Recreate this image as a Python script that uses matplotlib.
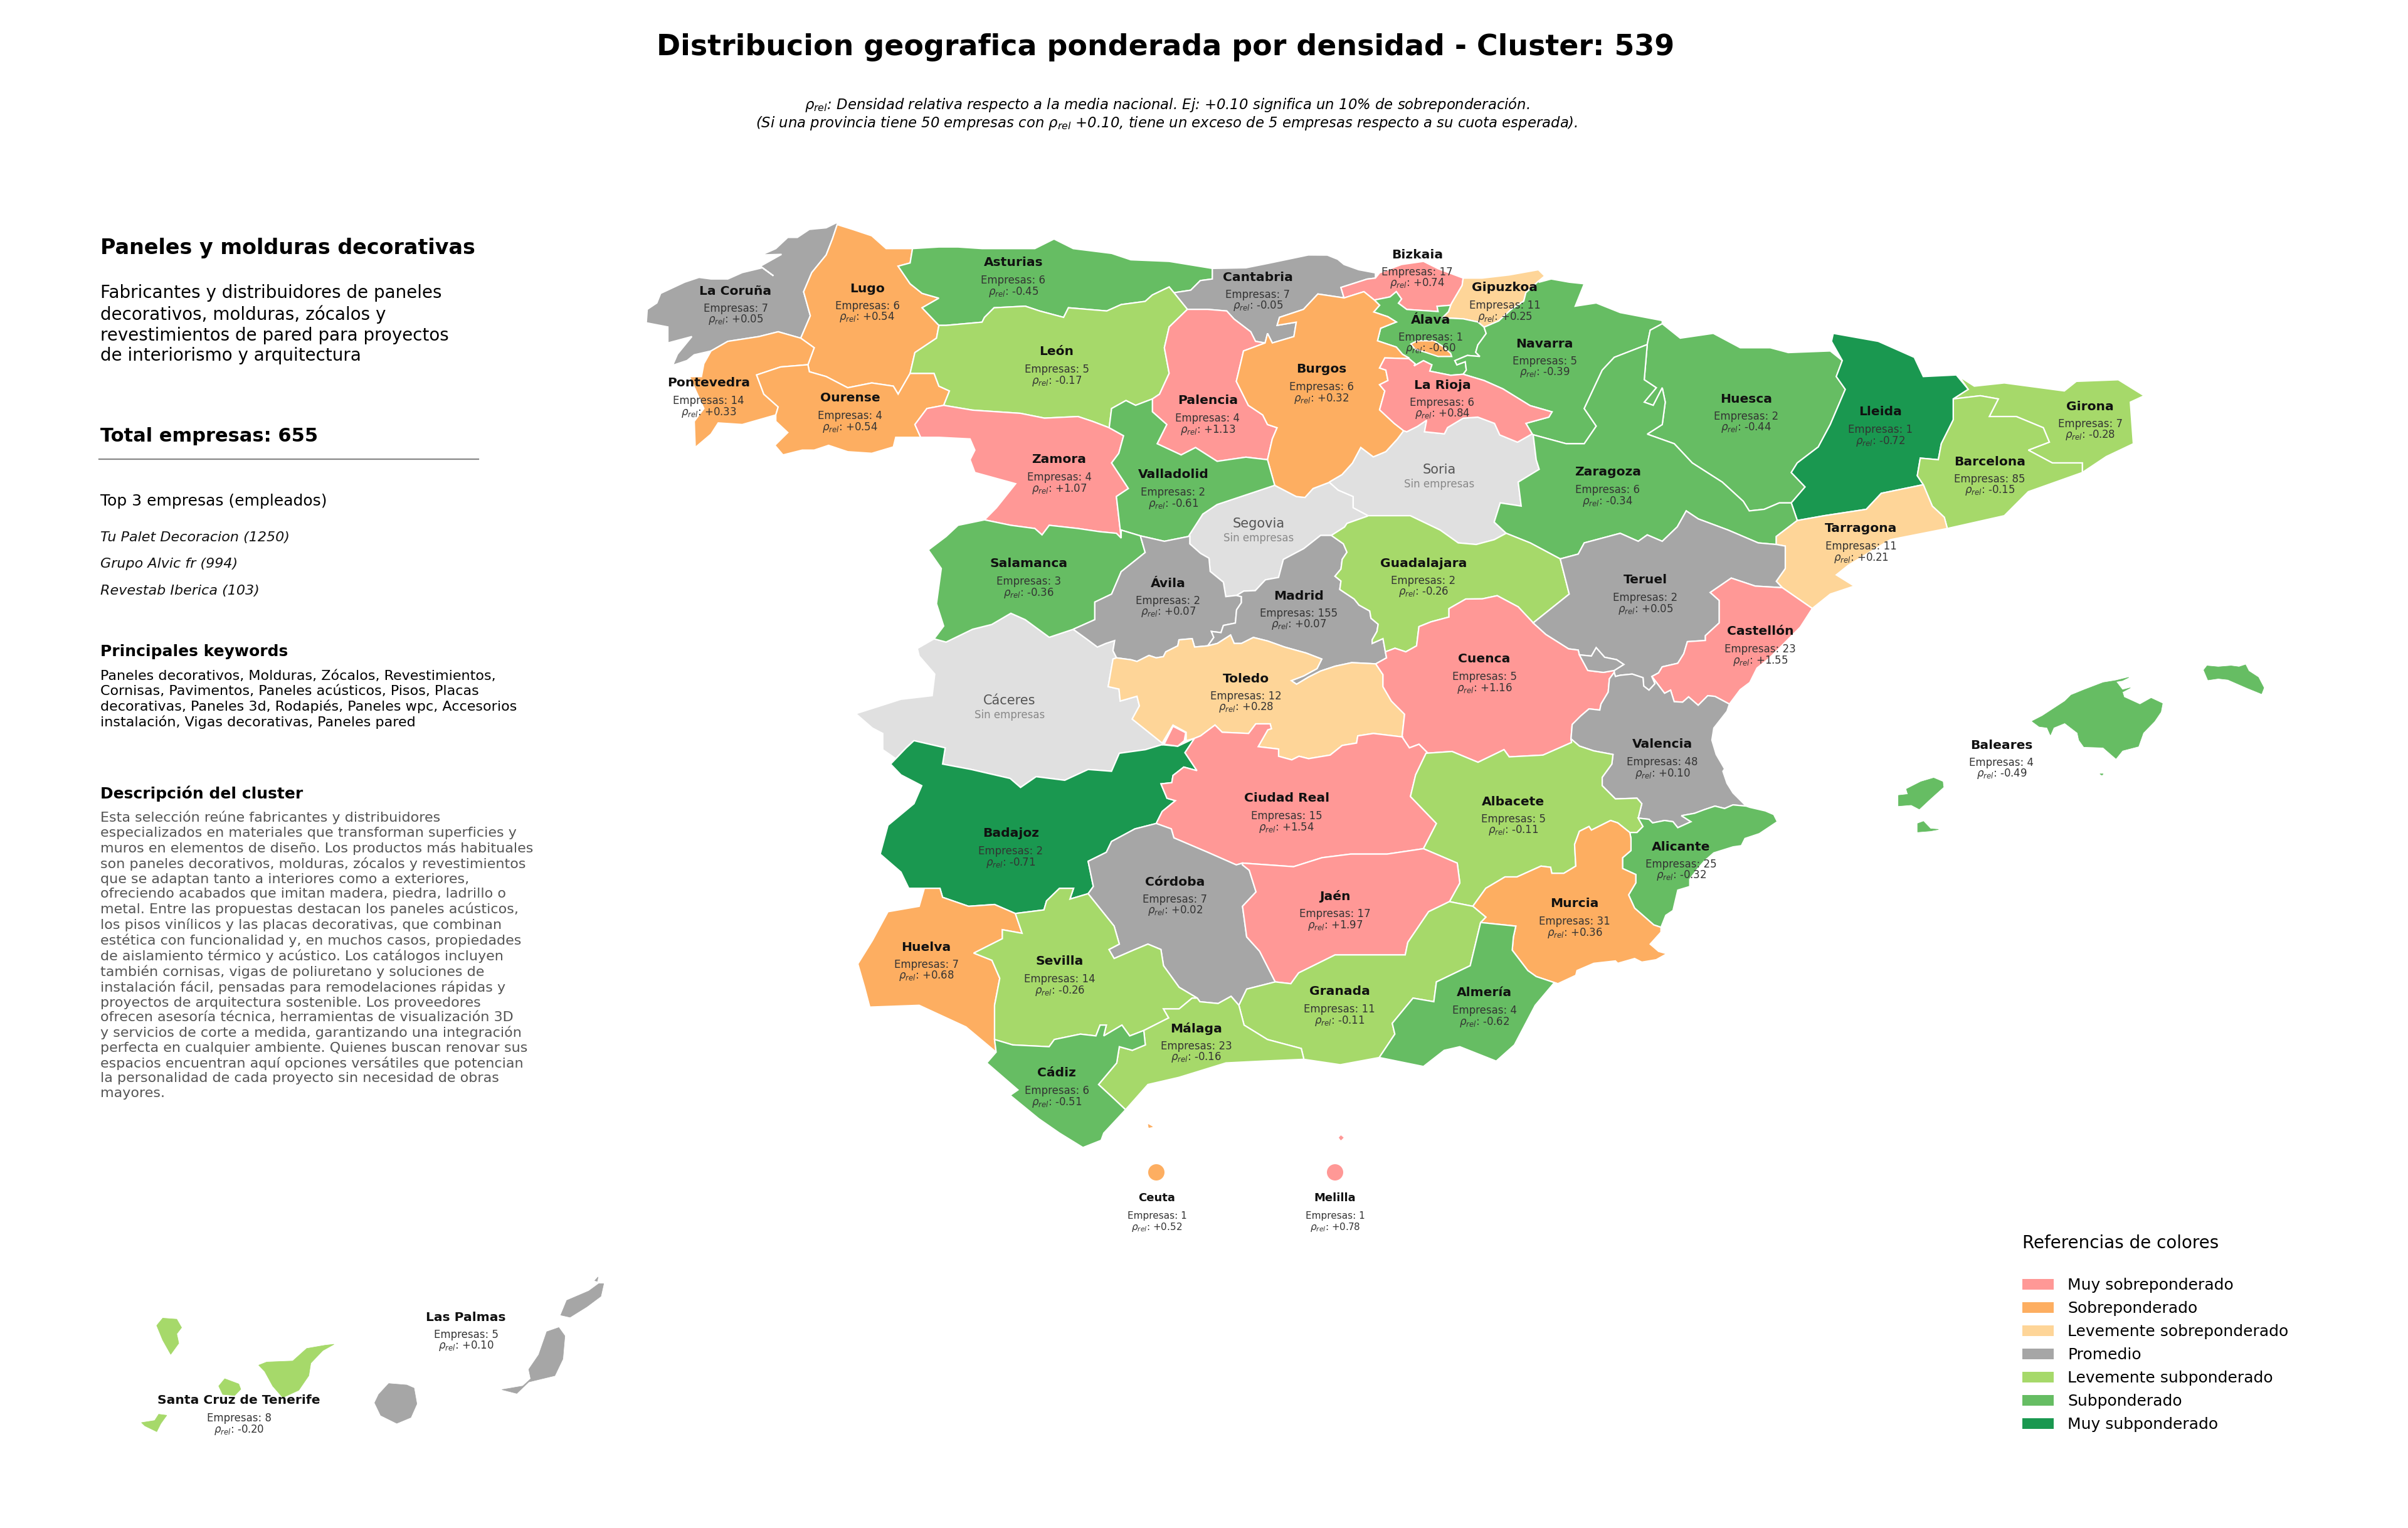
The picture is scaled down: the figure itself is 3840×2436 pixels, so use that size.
import numpy as np
import matplotlib
matplotlib.use("Agg")
import matplotlib.pyplot as plt
from matplotlib.patches import Polygon, Patch, Circle


def scaler(x0, y0, sx, sy):
    """Outlines were traced on crops of the source, this maps a crop back to canvas pixels"""
    def conv(pts):
        a = np.array(pts, dtype=float)
        return np.column_stack([x0 + a[:, 0] * sx, y0 + a[:, 1] * sy])
    return conv


z1 = scaler(1000, 330, 0.765, 0.51)
z2 = scaler(2000, 330, 0.957, 0.51)
z3 = scaler(1300, 1000, 0.829, 0.574)
z4 = scaler(1300, 1400, 0.957, 0.383)
z5 = scaler(100, 1950, 0.638, 0.333)
z6 = scaler(2900, 1000, 0.51, 0.333)
z9 = scaler(2400, 1000, 0.3827, 0.3827)
z10 = scaler(2100, 380, 0.3333, 0.3333)
z11 = scaler(1750, 800, 0.3827, 0.3827)

# province table
NAMES = ['La Coruña', 'Lugo', 'Asturias', 'Cantabria', 'Bizkaia', 'Gipuzkoa', 'Álava', 'Navarra',
         'Pontevedra', 'Ourense', 'León', 'Palencia', 'Burgos', 'La Rioja', 'Huesca', 'Lleida',
         'Girona', 'Barcelona', 'Zaragoza', 'Tarragona', 'Zamora', 'Valladolid', 'Salamanca',
         'Ávila', 'Madrid', 'Guadalajara', 'Teruel', 'Castellón', 'Toledo', 'Cuenca', 'Valencia',
         'Badajoz', 'Ciudad Real', 'Albacete', 'Alicante', 'Córdoba', 'Jaén', 'Murcia', 'Huelva',
         'Sevilla', 'Granada', 'Almería', 'Málaga', 'Cádiz', 'Baleares', 'Las Palmas',
         'Santa Cruz de Tenerife', 'Ceuta', 'Melilla']
COUNTS = [7, 6, 6, 7, 17, 11, 1, 5, 14, 4, 5, 4, 6, 6, 2, 1, 7, 85, 6, 11, 4, 2, 3, 2, 155, 2, 2,
          23, 12, 5, 48, 2, 15, 5, 25, 7, 17, 31, 7, 14, 11, 4, 23, 6, 4, 5, 8, 1, 1]
RHO = [0.05, 0.54, -0.45, -0.05, 0.74, 0.25, -0.60, -0.39, 0.33, 0.54, -0.17, 1.13, 0.32, 0.84,
       -0.44, -0.72, -0.28, -0.15, -0.34, 0.21, 1.07, -0.61, -0.36, 0.07, 0.07, -0.26, 0.05, 1.55,
       0.28, 1.16, 0.10, -0.71, 1.54, -0.11, -0.32, 0.02, 1.97, 0.36, 0.68, -0.26, -0.11, -0.62,
       -0.16, -0.51, -0.49, 0.10, -0.20, 0.52, 0.78]
EMPTY_NAMES = ['Segovia', 'Soria', 'Cáceres']
ISLANDS = ['Baleares', 'Las Palmas', 'Santa Cruz de Tenerife', 'Ceuta', 'Melilla']

LEGEND_LABELS = ['Muy sobreponderado', 'Sobreponderado', 'Levemente sobreponderado', 'Promedio',
                 'Levemente subponderado', 'Subponderado', 'Muy subponderado']
LEGEND_COLORS = ['#FF9896', '#FDAE61', '#FED598', '#A6A6A6', '#A6D96A', '#66BD63', '#1A9850']
EMPTY_COLOR = '#E0E0E0'

TOP_COMPANIES = ['Tu Palet Decoracion (1250)', 'Grupo Alvic fr (994)', 'Revestab Iberica (103)']
KEYWORDS = ("Paneles decorativos, Molduras, Zócalos, Revestimientos,\n"
            "Cornisas, Pavimentos, Paneles acústicos, Pisos, Placas\n"
            "decorativas, Paneles 3d, Rodapiés, Paneles wpc, Accesorios\n"
            "instalación, Vigas decorativas, Paneles pared")
SUMMARY = ("Fabricantes y distribuidores de paneles\n"
           "decorativos, molduras, zócalos y\n"
           "revestimientos de pared para proyectos\n"
           "de interiorismo y arquitectura")
DESCRIPTION = ("Esta selección reúne fabricantes y distribuidores\n"
               "especializados en materiales que transforman superficies y\n"
               "muros en elementos de diseño. Los productos más habituales\n"
               "son paneles decorativos, molduras, zócalos y revestimientos\n"
               "que se adaptan tanto a interiores como a exteriores,\n"
               "ofreciendo acabados que imitan madera, piedra, ladrillo o\n"
               "metal. Entre las propuestas destacan los paneles acústicos,\n"
               "los pisos vinílicos y las placas decorativas, que combinan\n"
               "estética con funcionalidad y, en muchos casos, propiedades\n"
               "de aislamiento térmico y acústico. Los catálogos incluyen\n"
               "también cornisas, vigas de poliuretano y soluciones de\n"
               "instalación fácil, pensadas para remodelaciones rápidas y\n"
               "proyectos de arquitectura sostenible. Los proveedores\n"
               "ofrecen asesoría técnica, herramientas de visualización 3D\n"
               "y servicios de corte a medida, garantizando una integración\n"
               "perfecta en cualquier ambiente. Quienes buscan renovar sus\n"
               "espacios encuentran aquí opciones versátiles que potencian\n"
               "la personalidad de cada proyecto sin necesidad de obras\n"
               "mayores.")

# shared borders, named after the two sides
CORUNA_COAST = z1([(438, 48), (415, 65), (380, 70), (355, 95), (335, 95), (310, 130), (280, 150), (322, 148),
                   (278, 185), (305, 215), (282, 190), (240, 205), (210, 225), (175, 225), (150, 220),
                   (120, 235), (70, 270), (62, 300), (42, 320), (40, 362), (85, 375), (85, 425), (135, 405),
                   (105, 460), (95, 495), (125, 480), (140, 462), (175, 450)])
CORUNA_PONTE = z1([(175, 450), (210, 420), (275, 405), (315, 390), (362, 410)])
CORUNA_LUGO = z1([(362, 410), (382, 340), (368, 265), (385, 205), (415, 150), (428, 100), (438, 55)])
LUGO_COAST = z1([(438, 55), (470, 70), (510, 90), (540, 130), (595, 130)])
LUGO_ASTUR = z1([(595, 130), (590, 175), (565, 185), (590, 240), (615, 270), (650, 285), (615, 315), (650, 370)])
LUGO_LEON = z1([(650, 370), (645, 410), (600, 455), (590, 520)])
LUGO_OURENSE = z1([(590, 520), (565, 585), (555, 560), (510, 550), (460, 565), (415, 530), (380, 515), (377, 493)])
LUGO_PONTE = z1([(377, 493), (390, 440), (362, 410)])
PONTE_OURENSE = z1([(377, 493), (320, 500), (270, 525), (285, 585), (315, 625), (310, 650)])
PONTE_COAST = z1([(310, 650), (240, 680), (190, 675), (175, 710), (142, 752), (140, 670), (160, 630), (130, 530),
                  (155, 530), (160, 490), (175, 450)])
OURENSE_LEON = z1([(590, 520), (640, 520), (650, 560), (672, 575), (660, 620)])
OURENSE_ZAMORA = z1([(660, 620), (625, 630), (600, 680), (612, 720)])
OURENSE_S = z1([(612, 720), (560, 720), (555, 750), (510, 770), (460, 765), (420, 745), (390, 760), (365, 760),
                (325, 775), (308, 745), (335, 705), (310, 670), (310, 650)])
ASTUR_COAST = z1([(595, 130), (650, 125), (690, 125), (740, 130), (800, 130), (850, 130), (890, 100), (930, 130),
                  (1010, 145), (1050, 165), (1130, 170), (1220, 192)])
ASTUR_CANT = z1([(1220, 192), (1220, 225), (1195, 230), (1175, 260), (1140, 268)])
ASTUR_LEON = z1([(1140, 268), (1130, 250), (1095, 275), (1080, 295), (1030, 305), (1000, 325), (920, 315), (910, 345),
                 (860, 325), (830, 310), (765, 315), (745, 345), (740, 360), (665, 370), (650, 370)])
LEON_CANT = z1([(1140, 268), (1168, 320)])
LEON_PAL = z1([(1168, 320), (1130, 375), (1120, 440), (1130, 520), (1110, 585), (1095, 600)])
LEON_VALL = z1([(1095, 600), (1060, 620), (1040, 605), (1010, 630), (1005, 690)])
LEON_ZAM = z1([(1005, 690), (970, 670), (940, 655), (870, 660), (820, 645), (720, 635), (660, 620)])
CANT_COAST = np.vstack([z1([(1220, 192), (1290, 190), (1340, 175), (1420, 150)]),
                        z10([(50, 80), (100, 100), (130, 125), (200, 150), (280, 165), (280, 190)])])
CANT_BIZK = z10([(280, 190), (240, 195), (115, 235), (130, 285)])
CANT_BURGOS = z1([(1494, 284), (1440, 272), (1410, 320), (1360, 345), (1355, 370), (1395, 360), (1390, 405),
                  (1345, 425), (1335, 395), (1330, 425)])
PAL_CANT = z1([(1168, 320), (1210, 320), (1250, 325), (1265, 350), (1300, 390), (1310, 420), (1330, 425)])
PAL_BURGOS = z1([(1330, 425), (1285, 450), (1270, 545), (1295, 620), (1325, 650), (1335, 680), (1355, 690),
                 (1345, 725), (1335, 790)])
PAL_VALL = z1([(1335, 790), (1290, 782), (1230, 795), (1185, 752), (1155, 775), (1105, 740), (1125, 680), (1095, 640),
               (1095, 600)])
VALL_ZAM = z1([(1005, 690), (1035, 715), (1025, 770), (1010, 800), (1045, 880), (1020, 905), (1030, 1035)])
VALL_SAL = z1([(1030, 1035), (1030, 1010), (1070, 1028)])
VALL_AV = z1([(1070, 1028), (1120, 1045), (1170, 1030)])
VALL_SEG = z1([(1170, 1030), (1200, 960), (1230, 930), (1350, 870)])
VALL_BURG = z1([(1350, 870), (1335, 790)])
ZAM_SAL = z1([(1030, 1035), (1020, 1020), (985, 1015), (940, 1005), (880, 995), (865, 1025), (850, 1005), (800, 995),
              (745, 978)])
ZAM_W = z1([(745, 978), (770, 940), (810, 865), (725, 830), (715, 790), (725, 760), (715, 725), (650, 720), (612, 720)])
SAL_AV = z1([(1070, 1028), (1080, 1080), (1030, 1140), (1010, 1210), (975, 1235), (975, 1290), (930, 1320)])
SAL_CAC = z1([(930, 1320), (880, 1345), (830, 1290), (800, 1270), (760, 1305), (720, 1320), (665, 1360), (640, 1350)])
SAL_W = z1([(640, 1350), (660, 1310), (645, 1240), (655, 1130), (628, 1072), (665, 1030), (690, 995), (745, 978)])
SEG_BURG = z1([(1350, 870), (1395, 905), (1413, 908), (1430, 880), (1465, 860)])
SEG_SORIA = z2([(125, 860), (140, 885), (165, 905), (165, 940), (190, 965)])
SEG_GUAD = z11([(1125, 60), (1040, 90), (1030, 105), (975, 140)])
AV_SEG = z11([(385, 140), (385, 175), (430, 215), (465, 235), (470, 290), (525, 335), (535, 395), (580, 390)])
AV_CAC = z11([(-102, 530), (-40, 575), (0, 605), (35, 590), (72, 578), (65, 620), (80, 650)])
AV_TOL = z11([(80, 650), (140, 658), (165, 665), (215, 640), (245, 650), (275, 645), (285, 625), (335, 600), (340, 575),
              (395, 570), (405, 605), (460, 600)])
AV_MAD = z11([(460, 600), (485, 565), (475, 540), (515, 545), (525, 515), (575, 505), (580, 450), (600, 420), (600, 395),
              (580, 390)])
MAD_SEG = z11([(580, 390), (610, 372), (658, 370), (700, 325), (755, 315), (775, 240), (860, 195), (930, 140), (975, 140)])
MAD_GUAD = z11([(975, 140), (1025, 175), (1040, 210), (1020, 240), (1015, 280), (990, 310), (1015, 330), (1010, 365),
                (1070, 405), (1090, 430), (1135, 455), (1140, 485), (1170, 510), (1165, 540), (1145, 575), (1145, 590),
                (1190, 570), (1200, 625)])
MAD_CUENCA = z11([(1200, 625), (1205, 650), (1160, 675)])
MAD_TOL = z11([(1160, 675), (1060, 670), (990, 685), (930, 705), (880, 730), (830, 760), (808, 745), (860, 725), (915, 695),
               (935, 655), (870, 630), (780, 605), (710, 580), (650, 565), (600, 590), (570, 590), (555, 555), (500, 590),
               (460, 600)])
GUAD_CUENCA = np.vstack([z11([(1200, 625), (1240, 610), (1285, 625), (1330, 600), (1340, 520), (1390, 500), (1465, 480),
                              (1465, 445), (1535, 405)]),
                         z2([(380, 1225), (405, 1215), (440, 1250), (465, 1300)])])
GUAD_TER = z2([(465, 1300), (525, 1210), (510, 1100)])
CUENCA_TOL = z11([(1270, 975), (1280, 885), (1225, 830), (1190, 770), (1190, 720), (1160, 675)])
CUENCA_CR = z11([(1270, 980), (1300, 1025), (1340, 1010), (1375, 1045)])
CUENCA_TER = z9([(117, -18), (170, 30), (265, 90), (305, 95), (310, 115)])
TER_ADEMUZ = z9([(455, 180), (495, 155), (465, 135), (415, 125), (380, 85), (360, 120), (310, 115)])
CUENCA_ADEMUZ = z9([(310, 115), (345, 180), (410, 188), (455, 180)])
CUENCA_VAL = z9([(455, 188), (435, 215), (430, 270), (400, 320), (395, 345), (350, 340), (315, 370), (280, 405), (275, 465)])
CUENCA_ALB = z3([(1455, 320), (1400, 355), (1335, 360), (1325, 340), (1275, 375), (1225, 345), (1175, 350)])

NAV_COAST = z2([(475, 235), (495, 225), (525, 235), (550, 240), (535, 310), (570, 300), (610, 330), (680, 355), (680, 365)])
NAV_HUESCA = z2([(680, 365), (660, 385), (655, 430)])
NAV_ZAR = z2([(655, 430), (600, 470), (580, 510), (550, 630), (570, 685), (550, 740), (520, 740), (465, 712)])
ZAR_HUESCA = z2([(655, 430), (650, 540), (670, 565), (650, 610), (665, 620), (680, 565), (685, 610), (680, 680), (655, 710),
                 (700, 740), (730, 800), (780, 860), (815, 920), (825, 950), (850, 945), (875, 925), (895, 925)])
HUESCA_N = z2([(680, 365), (710, 410), (765, 395), (810, 440), (860, 440), (890, 455), (960, 450), (980, 480)])
HUESCA_LLEIDA = z2([(980, 480), (970, 530), (985, 570), (960, 680), (940, 750), (905, 800), (895, 830), (918, 875), (895, 925)])
ZAR_SORIA = z2([(465, 712), (470, 790), (475, 820), (440, 860), (445, 935), (410, 925), (400, 985), (420, 1020)])
ZAR_GUAD = z2([(420, 1020), (460, 1050), (510, 1100)])
ZAR_TER = z2([(510, 1100), (540, 1085), (550, 1050), (610, 1020), (640, 1045), (655, 1025), (680, 1045), (705, 1000),
              (720, 950), (740, 975), (790, 1010), (840, 1050), (870, 1055)])
ZAR_TARR = z2([(870, 1055), (870, 1030), (905, 980)])
ZAR_LLEIDA = z2([(905, 980), (895, 925)])
LLEIDA_N = z2([(980, 480), (962, 420), (965, 395), (1040, 420), (1100, 470), (1115, 530), (1170, 525), (1190, 570)])
LLEIDA_GIR = z2([(1190, 570), (1165, 600)])
LLEIDA_BAR = z2([(1165, 600), (1165, 665), (1145, 740), (1140, 790), (1110, 785), (1105, 840), (1115, 868)])
LLEIDA_TARR = z2([(1115, 868), (1045, 895), (1020, 945), (950, 965), (905, 980)])
TARR_BAR = z2([(1115, 868), (1130, 935), (1150, 970), (1155, 1005)])
TARR_COAST = z2([(1155, 1005), (1060, 1040), (990, 1120), (970, 1150), (1000, 1185), (960, 1210), (930, 1255)])
TARR_CAST = z2([(930, 1255), (880, 1190)])
TARR_TER = z2([(880, 1190), (870, 1170), (885, 1130), (885, 1060), (870, 1055)])
BAR_GIR = z2([(1165, 600), (1210, 590), (1240, 600), (1225, 655), (1270, 655), (1315, 690), (1325, 735), (1290, 760),
              (1330, 800), (1380, 800)])
BAR_COAST = z2([(1380, 800), (1380, 830), (1290, 890), (1250, 965), (1155, 1005)])
GIR_COAST = z2([(1190, 570), (1175, 530), (1200, 560), (1250, 550), (1350, 575), (1370, 545), (1440, 540), (1483, 590),
                (1460, 610), (1465, 740), (1420, 780), (1380, 830), (1380, 800)])
SOR_GUAD = z2([(420, 1020), (400, 1040), (370, 1055), (340, 1050), (310, 1010), (260, 965), (190, 965)])

BUR_SORIA = z10([(60, 1165), (120, 1130), (170, 1075), (210, 1000), (270, 1045), (330, 1020), (385, 960), (415, 920)])
BUR_RIOJA = z10([(440, 575), (430, 575), (325, 572), (300, 620), (330, 630), (340, 680), (300, 700), (325, 730), (300, 820),
                 (370, 885), (415, 920)])
RIOJA_SORIA = z10([(415, 920), (430, 925), (480, 900), (525, 870), (515, 925), (610, 935), (625, 905), (700, 860), (770, 855),
                   (850, 885), (875, 940), (960, 975), (1030, 935)])
RIOJA_NAV = z10([(700, 650), (800, 680), (890, 720), (1020, 800), (1125, 830), (1110, 855), (1000, 885), (1030, 935)])
ALAVA_RIOJA = z10([(440, 575), (470, 600), (465, 610), (510, 585), (550, 605), (540, 635), (640, 655), (700, 650)])
BUR_ALAVA = z10([(440, 572), (410, 555), (380, 520), (290, 490), (305, 430), (380, 400), (340, 375), (272, 352), (300, 320),
                 (275, 295)])
ALAVA_BIZ = z10([(275, 295), (350, 280), (380, 255), (405, 290), (390, 310), (430, 340), (580, 350), (575, 325), (640, 320)])
ALAVA_GIP = z10([(800, 425), (770, 400), (700, 385), (600, 380), (630, 350), (640, 320)])
ALAVA_NAV = z10([(800, 425), (810, 455), (770, 510), (760, 545), (780, 565), (720, 560), (660, 585), (670, 605), (710, 590),
                 (715, 630), (700, 650)])
BIZ_COAST = z10([(280, 190), (300, 165), (405, 125), (510, 110), (580, 145), (700, 190)])
BIZ_GIP = z10([(700, 190), (695, 225), (645, 310), (640, 320)])
BIZ_BURG = z10([(130, 285), (225, 255), (275, 295)])
GIP_COAST = z10([(700, 190), (790, 190), (920, 175), (1060, 150), (1090, 180), (1060, 205)])
GIP_NAV = z10([(1060, 205), (1000, 260), (990, 300), (930, 340), (870, 395), (800, 425)])

TER_CAST = np.vstack([z2([(880, 1190), (835, 1185), (795, 1160), (760, 1205), (775, 1230), (775, 1300)]),
                      z9([(835, 35), (835, 55), (760, 60), (745, 110), (720, 150), (655, 165), (640, 190), (612, 205)])])
TER_VAL = z9([(612, 205), (625, 235), (600, 262), (578, 245), (575, 210), (530, 195), (480, 200), (460, 205), (455, 188)])
CAST_VAL = z9([(612, 205), (665, 275), (690, 262), (705, 310), (740, 312), (765, 290), (805, 325), (845, 285), (875, 288), (935, 320)])
CAST_COAST = np.vstack([z9([(935, 320), (980, 260), (1020, 230), (1050, 170), (1100, 130), (1180, 50), (1230, 0)]),
                        z2([(930, 1255)])])
VAL_COAST = z9([(935, 320), (925, 350), (870, 420), (862, 470), (880, 530), (915, 590), (908, 600), (925, 650), (950, 690), (1005, 745)])
VAL_ALI = z9([(1005, 745), (950, 740), (915, 755), (875, 745), (830, 760), (790, 775), (735, 785), (775, 810), (720, 835), (700, 810),
              (665, 805), (615, 815), (600, 800), (555, 795)])
VAL_ALB = z9([(555, 795), (570, 735), (550, 712), (460, 715), (405, 660), (405, 625), (445, 570), (450, 530), (370, 515), (310, 495), (275, 465)])
ALI_COAST = z9([(1005, 745), (1020, 750), (1085, 765), (1120, 780), (1135, 810), (1060, 860), (1000, 880), (985, 910), (950, 915),
                (870, 940), (830, 975), (800, 1010), (770, 1050), (770, 1080), (720, 1095), (700, 1180), (670, 1200), (650, 1250)])
ALI_MUR = z9([(650, 1250), (620, 1240), (540, 1170), (515, 1115), (545, 1065), (545, 1030), (490, 1005), (490, 960), (525, 930), (525, 880), (520, 855)])
ALI_ALB = z9([(520, 855), (550, 855), (575, 830), (555, 795)])
MUR_COAST = z9([(650, 1250), (650, 1270), (605, 1320), (640, 1350), (675, 1360), (630, 1385), (570, 1395), (540, 1380), (470, 1400),
                (460, 1390), (370, 1400), (300, 1430), (295, 1450), (220, 1485)])
MUR_ALM = np.vstack([z9([(220, 1485), (130, 1455), (95, 1430), (30, 1345), (35, 1290), (45, 1245)]), z3([(1280, 820)])])
MUR_GRAN = z3([(1265, 775), (1290, 805), (1280, 820)])
MUR_ALB = np.vstack([z3([(1265, 775), (1290, 725)]),
                     z9([(0, 1040), (50, 1040), (150, 995), (190, 1000), (195, 1025), (245, 1025), (295, 995), (290, 905),
                         (310, 850), (350, 830), (360, 845), (440, 805), (470, 815), (520, 855)])])
ALB_GRAN = z3([(1265, 775), (1220, 762)])
ALB_JAEN = z3([(1220, 762), (1240, 710), (1235, 655), (1170, 615)])
ALB_CR = z3([(1170, 615), (1195, 545), (1145, 470), (1155, 410), (1175, 350)])

TOL_CR = z11([(1275, 980), (1150, 965), (1085, 975), (1080, 1005), (1020, 1015), (970, 1055), (880, 1070), (840, 1060), (810, 1075),
              (755, 1060), (755, 1030), (670, 1020), (690, 985), (710, 950), (725, 945), (720, 925), (660, 925), (630, 965),
              (520, 960), (490, 930), (470, 945), (430, 975), (405, 985)])
TOL_ENCLAVE = z11([(405, 985), (370, 995), (370, 960), (315, 930), (270, 1005)])
TOL_CAC = z11([(270, 1005), (145, 905), (175, 850), (165, 810), (95, 830), (90, 780), (45, 770), (65, 655), (80, 650)])
CAC_W = np.vstack([z1([(640, 1350), (605, 1380)]),
                   z3([(200, 80), (230, 130), (225, 190), (165, 200), (78, 240), (110, 280), (130, 295), (130, 340), (155, 365)])])
CAC_BAD = z3([(155, 365), (175, 335), (190, 315), (250, 335), (245, 380), (300, 395), (375, 420), (395, 445), (425, 415), (480, 425),
              (525, 395), (570, 400), (585, 350), (635, 340), (670, 325)])
BAD_N = z11([(270, 1012), (335, 1018), (405, 985)])
BAD_CR = z11([(405, 985), (365, 1045), (415, 1120), (360, 1105), (315, 1140), (310, 1170), (265, 1175), (290, 1235), (325, 1245),
              (270, 1290), (245, 1340)])
BAD_COR = z3([(656, 545), (615, 560), (570, 595), (560, 625), (525, 650), (535, 720), (525, 740)])
BAD_SEV = z3([(525, 740), (490, 755), (497, 725), (470, 725), (445, 760), (440, 785), (385, 795)])
BAD_HUE = z3([(385, 795), (345, 770), (295, 775), (245, 750), (240, 725), (210, 725)])
BAD_W = z3([(210, 725), (180, 725), (165, 680), (125, 630), (140, 550), (190, 490), (205, 440), (165, 410), (145, 380), (155, 365)])
COR_CR = z3([(656, 545), (685, 560), (690, 585), (755, 625), (810, 660), (822, 655)])
COR_JAEN = z3([(822, 660), (835, 675), (848, 735), (822, 775), (830, 860), (855, 900), (885, 985)])
COR_GRAN = z3([(885, 985), (830, 1005), (815, 1050)])
COR_MAL = z3([(735, 1030), (740, 1040), (775, 1045), (800, 1025), (815, 1050)])
SEV_COR = z3([(525, 740), (575, 830), (585, 880), (565, 895), (575, 920), (615, 895), (640, 880), (665, 895), (670, 940), (700, 1000), (735, 1030)])
CR_JAEN = z3([(822, 655), (920, 665), (975, 640), (1030, 630), (1100, 630), (1170, 615)])
JAEN_GRAN = z3([(1220, 762), (1180, 790), (1140, 875), (1135, 910), (1000, 910), (930, 960), (915, 990), (885, 985)])
GRAN_ALM = z3([(1280, 820), (1260, 940), (1195, 985), (1190, 1040), (1150, 1030), (1110, 1100), (1115, 1130), (1085, 1195)])
GRAN_MAL = z3([(815, 1050), (825, 1105), (870, 1145), (935, 1170), (940, 1200)])
GRAN_COAST = z3([(940, 1200), (1010, 1215), (1085, 1195)])
ALM_COAST = z3([(1085, 1195), (1170, 1220), (1210, 1175), (1240, 1165), (1310, 1205), (1345, 1160), (1385, 1050), (1420, 990)])
HUE_SEV = z3([(385, 795), (398, 850), (360, 840), (360, 865), (305, 905), (340, 925), (355, 975), (345, 1050), (345, 1145)])
HUE_CAD = z3([(345, 1145), (348, 1180)])
HUE_COAST = z3([(348, 1180), (290, 1110), (200, 1050), (105, 1055), (95, 1000), (82, 935), (110, 870), (140, 790), (200, 775), (210, 725)])
SEV_CAD = z3([(345, 1145), (380, 1160), (450, 1165), (460, 1145), (510, 1130), (540, 1135), (548, 1105), (560, 1105), (555, 1135),
              (590, 1105), (605, 1135), (632, 1120)])
SEV_MAL = z3([(735, 1030), (725, 1030), (700, 1060), (670, 1060), (680, 1085), (632, 1120)])
CAD_MAL = z3([(632, 1120), (635, 1160), (610, 1175), (585, 1165), (580, 1210), (545, 1270), (575, 1310), (597, 1340)])
CAD_COAST = z3([(597, 1340), (555, 1405), (550, 1425), (515, 1445), (470, 1405), (430, 1365), (375, 1300), (390, 1285), (330, 1210), (348, 1180)])
MAL_COAST = z3([(597, 1340), (640, 1270), (700, 1250), (790, 1210), (860, 1205), (940, 1200)])


def ring(*chains):
    return np.vstack(chains)


OUTLINES = {
    'La Coruña': [ring(CORUNA_COAST, CORUNA_PONTE, CORUNA_LUGO)],
    'Lugo': [ring(LUGO_COAST, LUGO_ASTUR, LUGO_LEON, LUGO_OURENSE, LUGO_PONTE, CORUNA_LUGO)],
    'Pontevedra': [ring(CORUNA_PONTE, LUGO_PONTE[::-1], PONTE_OURENSE, PONTE_COAST)],
    'Ourense': [ring(PONTE_OURENSE[::-1], LUGO_OURENSE[::-1], OURENSE_LEON, OURENSE_ZAMORA, OURENSE_S)],
    'Asturias': [ring(ASTUR_COAST, ASTUR_CANT, ASTUR_LEON, LUGO_ASTUR[::-1])],
    'León': [ring(ASTUR_LEON[::-1], LEON_CANT, LEON_PAL, LEON_VALL, LEON_ZAM, OURENSE_LEON[::-1], LUGO_LEON[::-1])],
    'Cantabria': [ring(ASTUR_CANT[::-1], CANT_COAST, CANT_BIZK, CANT_BURGOS, PAL_CANT[::-1], LEON_CANT[::-1])],
    'Palencia': [ring(PAL_CANT, PAL_BURGOS, PAL_VALL, LEON_PAL[::-1])],
    'Valladolid': [ring(LEON_VALL, VALL_ZAM, VALL_SAL, VALL_AV, VALL_SEG, VALL_BURG, PAL_VALL)],
    'Zamora': [ring(LEON_ZAM[::-1], VALL_ZAM, ZAM_SAL, ZAM_W, OURENSE_ZAMORA[::-1])],
    'Salamanca': [ring(ZAM_SAL[::-1], VALL_SAL, SAL_AV, SAL_CAC, SAL_W)],
    'Ávila': [ring(VALL_AV[::-1], SAL_AV, AV_CAC, AV_TOL, AV_MAD, AV_SEG[::-1])],
    'Segovia': [ring(VALL_SEG, SEG_BURG, SEG_SORIA, SEG_GUAD, MAD_SEG[::-1], AV_SEG[::-1])],
    'Madrid': [ring(AV_MAD, MAD_SEG, MAD_GUAD, MAD_CUENCA, MAD_TOL)],
    'Guadalajara': [ring(SOR_GUAD, SEG_GUAD, MAD_GUAD, GUAD_CUENCA, GUAD_TER, ZAR_GUAD[::-1])],
    'Soria': [ring(BUR_SORIA, RIOJA_SORIA, ZAR_SORIA, SOR_GUAD, SEG_SORIA[::-1])],
    'La Rioja': [ring(BUR_RIOJA, RIOJA_SORIA, RIOJA_NAV[::-1], ALAVA_RIOJA[::-1])],
    'Burgos': [ring(CANT_BURGOS[::-1], BIZ_BURG, BUR_ALAVA[::-1], BUR_RIOJA, BUR_SORIA[::-1], SEG_BURG[::-1], VALL_BURG, PAL_BURGOS[::-1]),
               z10([(450, 505), (480, 490), (560, 490), (600, 515), (640, 550), (645, 565), (580, 565), (520, 545), (470, 530)])],
    'Álava': [ring(BUR_ALAVA, ALAVA_BIZ, ALAVA_GIP[::-1], ALAVA_NAV, ALAVA_RIOJA[::-1]),
              z10([(215, 430), (240, 395), (300, 410), (285, 435), (250, 455)])],
    'Bizkaia': [ring(BIZ_COAST, BIZ_GIP, ALAVA_BIZ[::-1], BIZ_BURG[::-1], CANT_BIZK[::-1]),
                z10([(330, 355), (350, 340), (390, 365), (370, 375)])],
    'Gipuzkoa': [ring(GIP_COAST, GIP_NAV, ALAVA_GIP, BIZ_GIP[::-1])],
    'Navarra': [ring(NAV_COAST, NAV_HUESCA, NAV_ZAR, RIOJA_NAV[::-1], ALAVA_NAV[::-1], GIP_NAV[::-1]),
                z2([(605, 545), (615, 525), (622, 545)]), z2([(594, 555), (602, 548), (602, 558)])],
    'Huesca': [ring(HUESCA_N, HUESCA_LLEIDA, ZAR_HUESCA[::-1], NAV_HUESCA[::-1])],
    'Zaragoza': [ring(NAV_ZAR, ZAR_SORIA, ZAR_GUAD, ZAR_TER, ZAR_TARR, ZAR_LLEIDA, ZAR_HUESCA[::-1])],
    'Lleida': [ring(LLEIDA_N, LLEIDA_GIR, LLEIDA_BAR, LLEIDA_TARR, ZAR_LLEIDA, HUESCA_LLEIDA[::-1])],
    'Tarragona': [ring(LLEIDA_TARR[::-1], TARR_BAR, TARR_COAST, TARR_CAST, TARR_TER, ZAR_TARR)],
    'Barcelona': [ring(BAR_GIR, BAR_COAST, TARR_BAR[::-1], LLEIDA_BAR[::-1])],
    'Girona': [ring(LLEIDA_GIR[::-1], GIR_COAST, BAR_GIR[::-1])],
    'Teruel': [ring(ZAR_TER, TARR_TER[::-1], TER_CAST, TER_VAL, TER_ADEMUZ, CUENCA_TER[::-1], GUAD_TER)],
    'Cuenca': [ring(GUAD_CUENCA, CUENCA_TER, CUENCA_ADEMUZ, CUENCA_VAL, CUENCA_ALB, CUENCA_CR[::-1], CUENCA_TOL, MAD_CUENCA[::-1])],
    'Castellón': [ring(TARR_CAST, TER_CAST, CAST_VAL, CAST_COAST)],
    'Valencia': [ring(CAST_VAL, VAL_COAST, VAL_ALI, VAL_ALB, CUENCA_VAL[::-1], TER_VAL[::-1]),
                 ring(TER_ADEMUZ, CUENCA_ADEMUZ)],
    'Alicante': [ring(VAL_ALI[::-1], ALI_COAST, ALI_MUR, ALI_ALB)],
    'Murcia': [ring(MUR_ALB, ALI_MUR[::-1], MUR_COAST, MUR_ALM, MUR_GRAN[::-1])],
    'Albacete': [ring(CUENCA_ALB[::-1], VAL_ALB[::-1], ALI_ALB[::-1], MUR_ALB[::-1], ALB_GRAN, ALB_JAEN, ALB_CR)],
    'Toledo': [ring(AV_TOL, MAD_TOL[::-1], CUENCA_TOL[::-1], TOL_CR, TOL_ENCLAVE, TOL_CAC)],
    'Ciudad Real': [ring(TOL_CR, BAD_CR, COR_CR, CR_JAEN, ALB_CR, CUENCA_CR[::-1]),
                    z11([(278, 1010), (315, 935), (368, 962), (362, 995), (335, 1018)])],
    'Cáceres': [ring(CAC_W, CAC_BAD, TOL_CAC, AV_CAC[::-1], SAL_CAC)],
    'Badajoz': [ring(CAC_BAD, BAD_N, BAD_CR, BAD_COR, BAD_SEV, BAD_HUE, BAD_W)],
    'Córdoba': [ring(BAD_COR, SEV_COR, COR_MAL, COR_GRAN[::-1], COR_JAEN[::-1], COR_CR[::-1])],
    'Jaén': [ring(CR_JAEN, ALB_JAEN[::-1], JAEN_GRAN, COR_JAEN[::-1])],
    'Granada': [ring(JAEN_GRAN, COR_GRAN, GRAN_MAL, GRAN_COAST, GRAN_ALM[::-1], MUR_GRAN[::-1], ALB_GRAN)],
    'Almería': [ring(GRAN_ALM, ALM_COAST, MUR_ALM)],
    'Huelva': [ring(BAD_HUE[::-1], HUE_SEV, HUE_CAD, HUE_COAST)],
    'Sevilla': [ring(BAD_SEV[::-1], SEV_COR, SEV_MAL, SEV_CAD[::-1], HUE_SEV[::-1])],
    'Cádiz': [ring(SEV_CAD, CAD_MAL, CAD_COAST, HUE_CAD[::-1])],
    'Málaga': [ring(SEV_MAL[::-1], COR_MAL, GRAN_MAL, MAL_COAST[::-1], CAD_MAL[::-1])],
    'Baleares': [
        z6([(668, 450), (700, 425), (740, 385), (770, 355), (790, 325), (830, 300), (890, 265), (930, 255), (970, 240), (950, 255),
            (930, 260), (950, 300), (975, 290), (950, 310), (955, 335), (1005, 370), (1040, 340), (1075, 365), (1070, 405), (1050, 450),
            (1015, 505), (1000, 570), (950, 590), (930, 628), (890, 575), (830, 572), (815, 540), (810, 505), (770, 458), (735, 480),
            (725, 515), (715, 480), (690, 475)]),
        z6([(1205, 205), (1215, 185), (1250, 190), (1290, 185), (1315, 190), (1335, 180), (1345, 210), (1375, 240), (1392, 290),
            (1385, 318), (1340, 290), (1280, 250), (1250, 245), (1218, 252)]),
        z6([(275, 775), (320, 740), (360, 722), (388, 740), (390, 765), (350, 820), (315, 870), (290, 850), (250, 855), (250, 805), (280, 800)]),
        z6([(310, 940), (328, 930), (350, 965), (375, 968), (350, 975), (310, 980)]),
        z6([(880, 702), (890, 702), (886, 708)])],
    'Santa Cruz de Tenerife': [
        z5([(235, 490), (250, 455), (285, 460), (297, 500), (285, 530), (290, 575), (270, 628), (250, 560)]),
        z5([(490, 680), (510, 665), (575, 660), (610, 600), (655, 585), (678, 580), (650, 610), (620, 670), (615, 730), (590, 800), (550, 835), (525, 780), (505, 710)]),
        z5([(390, 780), (405, 745), (440, 770), (445, 795), (430, 825), (400, 820)]),
        z5([(197, 955), (230, 945), (240, 915), (260, 920), (245, 960), (235, 998), (205, 970)])],
    'Las Palmas': [
        z5([(815, 768), (860, 775), (878, 790), (885, 865), (870, 930), (835, 958), (795, 920), (780, 860), (790, 820)]),
        z5([(1098, 797), (1150, 780), (1170, 745), (1165, 700), (1190, 630), (1210, 520), (1240, 500), (1255, 540), (1250, 650), (1230, 730), (1165, 760), (1135, 815)]),
        z5([(1245, 440), (1260, 370), (1315, 325), (1340, 290), (1352, 290), (1345, 350), (1310, 400), (1268, 450)]),
        z5([(1330, 275), (1338, 258), (1336, 278)])],
    'Ceuta': [z4([(555, 1025), (562, 1035), (556, 1038)])],
    'Melilla': [z4([(876, 1072), (880, 1080), (876, 1090), (873, 1080)])],
}

# label anchors in canvas pixels
LABEL_POS = {
    'La Coruña': (1173, 464), 'Lugo': (1383, 460), 'Asturias': (1616, 419), 'León': (1685, 561), 'Cantabria': (2006, 442),
    'Pontevedra': (1130, 611), 'Ourense': (1356, 635), 'Zamora': (1689, 733), 'Palencia': (1926, 639), 'Burgos': (2107, 589),
    'Valladolid': (1871, 757), 'Segovia': (2007, 835), 'Salamanca': (1641, 899), 'Ávila': (1863, 930), 'Madrid': (2071, 950),
    'Cáceres': (1610, 1117), 'Toledo': (1987, 1082), 'Bizkaia': (2260, 406), 'Gipuzkoa': (2400, 459), 'Álava': (2282, 510),
    'Navarra': (2463, 548), 'La Rioja': (2300, 614), 'Huesca': (2785, 636), 'Lleida': (2999, 657), 'Girona': (3333, 648),
    'Barcelona': (3173, 736), 'Soria': (2295, 749), 'Zaragoza': (2564, 753), 'Tarragona': (2968, 843),
    'Guadalajara': (2270, 898), 'Teruel': (2624, 925), 'Castellón': (2807, 1007), 'Cuenca': (2367, 1051),
    'Ciudad Real': (2052, 1273), 'Albacete': (2413, 1278), 'Badajoz': (1612, 1329), 'Córdoba': (1874, 1406), 'Jaén': (2129, 1429),
    'Murcia': (2511, 1441), 'Huelva': (1477, 1510), 'Sevilla': (1690, 1533), 'Granada': (2136, 1581), 'Almería': (2367, 1583),
    'Málaga': (1908, 1640), 'Cádiz': (1685, 1711), 'Valencia': (2651, 1187), 'Alicante': (2681, 1350), 'Baleares': (3192, 1188),
    'Las Palmas': (743, 2100), 'Santa Cruz de Tenerife': (381, 2233), 'Ceuta': (1845, 1910), 'Melilla': (2129, 1910),
}
MARKER_POS = {'Ceuta': (1844, 1869), 'Melilla': (2129, 1869)}


def rho_color(rho):
    limits = [0.7, 0.3, 0.1, -0.1, -0.3, -0.7]
    for limit, color in zip(limits, LEGEND_COLORS):
        if rho > limit or (limit < 0 and rho == limit):
            return color
    return LEGEND_COLORS[-1]


fig = plt.figure(figsize=(19.2, 12.18), dpi=200)
ax = fig.add_axes([0, 0, 1, 1])
ax.set_xlim(0, 3840)
ax.set_ylim(2436, 0)
ax.axis('off')

for name, count, rho in zip(NAMES, COUNTS, RHO):
    color = rho_color(rho)
    island = name in ISLANDS
    for pts in OUTLINES[name]:
        ax.add_patch(Polygon(pts, closed=True, facecolor=color, edgecolor=color if island else 'white',
                             linewidth=0.3 if island else 0.8, zorder=2))
    if name in MARKER_POS:
        ax.add_patch(Circle(MARKER_POS[name], 13, facecolor=color, edgecolor='none', zorder=2))
    x, y = LABEL_POS[name]
    small = name in MARKER_POS
    ax.text(x, y, name, ha='center', va='center', fontsize=6.5 if small else 7.3, fontweight='bold', color='#111111', zorder=5)
    ax.text(x, y + (29 if small else 28), f'Empresas: {count}', ha='center', va='center',
            fontsize=5.5 if small else 6, color='#333333', zorder=5)
    ax.text(x, y + (47 if small else 46), rf'$\rho_{{rel}}$: {rho:+.2f}', ha='center', va='center',
            fontsize=5.5 if small else 6, color='#333333', zorder=5)

for name in EMPTY_NAMES:
    for pts in OUTLINES[name]:
        ax.add_patch(Polygon(pts, closed=True, facecolor=EMPTY_COLOR, edgecolor='white', linewidth=0.8, zorder=1))
    x, y = LABEL_POS[name]
    ax.text(x, y, name, ha='center', va='center', fontsize=7.5, color='#555555', zorder=5)
    ax.text(x, y + 23, 'Sin empresas', ha='center', va='center', fontsize=6, color='#888888', zorder=5)

# header
ax.text(1859, 75, 'Distribucion geografica ponderada por densidad - Cluster: 539', ha='center', va='center',
        fontsize=16.5, fontweight='bold', color='black')
ax.text(1861, 167, r'$\rho_{rel}$: Densidad relativa respecto a la media nacional. Ej: +0.10 significa un 10% de sobreponderación.',
        ha='center', va='center', fontsize=8.2, style='italic', color='black')
ax.text(1861, 196, r'(Si una provincia tiene 50 empresas con $\rho_{rel}$ +0.10, tiene un exceso de 5 empresas respecto a su cuota esperada).',
        ha='center', va='center', fontsize=8.2, style='italic', color='black')

# left panel
LEFT = 160
ax.text(LEFT, 396, 'Paneles y molduras decorativas', va='center', fontsize=12, fontweight='bold', color='black')
ax.text(LEFT, 453, SUMMARY, va='top', fontsize=10, color='black', linespacing=1.22)
ax.text(LEFT, 695, 'Total empresas: 655', va='center', fontsize=11, fontweight='bold', color='black')
ax.plot([158, 763], [732, 732], color='#888888', lw=0.8)
ax.text(LEFT, 799, 'Top 3 empresas (empleados)', va='center', fontsize=9, color='black')
for y, company in zip([857, 899, 942], TOP_COMPANIES):
    ax.text(LEFT, y, company, va='center', fontsize=8, style='italic', color='#111111')
ax.text(LEFT, 1039, 'Principales keywords', va='center', fontsize=9, fontweight='bold', color='black')
ax.text(LEFT, 1068, KEYWORDS, va='top', fontsize=8, color='black', linespacing=1.22)
ax.text(LEFT, 1265, 'Descripción del cluster', va='center', fontsize=9, fontweight='bold', color='black')
ax.text(LEFT, 1293, DESCRIPTION, va='top', fontsize=8, color='#555555', linespacing=1.21)

handles = [Patch(facecolor=c, edgecolor='none', label=l) for c, l in zip(LEGEND_COLORS, LEGEND_LABELS)]
leg = ax.legend(handles=handles, title='Referencias de colores\n', frameon=False, fontsize=9, title_fontsize=10,
                loc='upper left', bbox_to_anchor=(3225, 1968), bbox_transform=ax.transData, borderpad=0,
                borderaxespad=0, labelspacing=0.52, alignment='left', handletextpad=0.88)
leg.get_title().set_linespacing(1.0)

fig.savefig('out.png', dpi=200)
